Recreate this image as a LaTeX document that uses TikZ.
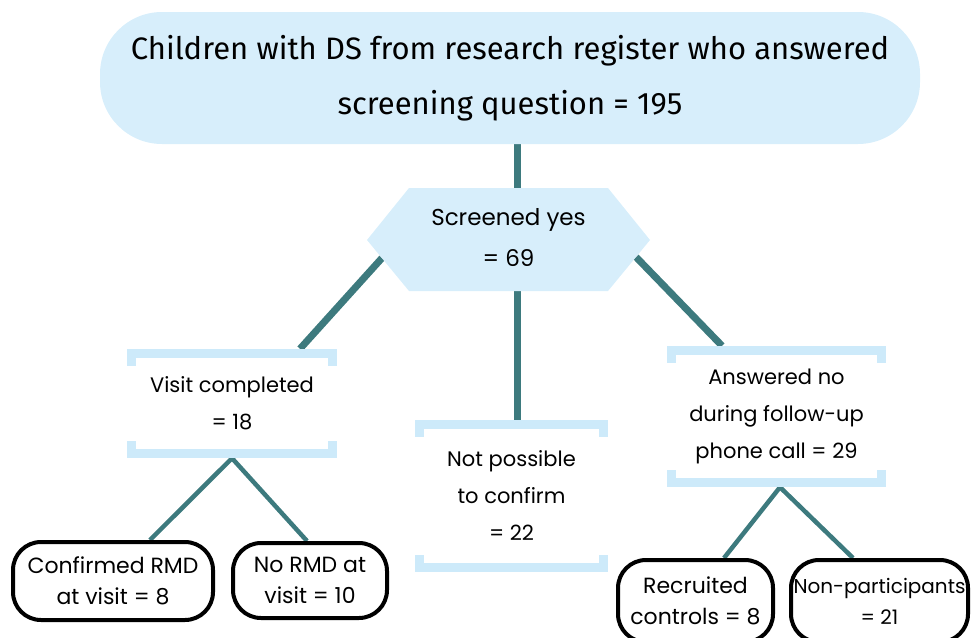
\documentclass[tikz,border=0pt]{standalone}
\usepackage{fontspec}
\setmainfont{Poppins}
\newfontfamily\topfont{Fira Sans}
\usetikzlibrary{backgrounds}
\definecolor{paleblue}{RGB}{215,238,251}
\definecolor{barblue}{RGB}{205,234,250}
\definecolor{teal}{RGB}{61,122,126}
\tikzset{
  conn/.style={draw=teal, line width=7pt},
  subconn/.style={draw=teal, line width=4.5pt},
  pill/.style={fill=paleblue, rounded corners=62pt, inner sep=0pt, align=center, font=\topfont\fontsize{31}{55}\selectfont},
  txt/.style={inner sep=0pt, align=center, font=\fontsize{21}{37}\selectfont},
  outcome/.style={draw=black, line width=4pt, rounded corners=28pt, inner sep=0pt, align=center, font=\fontsize{22}{31}\selectfont},
  bracketbox/.style={inner sep=0pt, align=center, font=\fontsize{21}{37}\selectfont,
    path picture={
      \fill[barblue] (path picture bounding box.north west) rectangle ([yshift=-9pt]path picture bounding box.north east);
      \fill[barblue] ([yshift=-9pt]path picture bounding box.north west) rectangle ([xshift=9pt,yshift=-17pt]path picture bounding box.north west);
      \fill[barblue] ([yshift=-9pt]path picture bounding box.north east) rectangle ([xshift=-9pt,yshift=-17pt]path picture bounding box.north east);
      \fill[barblue] (path picture bounding box.south west) rectangle ([yshift=9pt]path picture bounding box.south east);
      \fill[barblue] ([yshift=9pt]path picture bounding box.south west) rectangle ([xshift=9pt,yshift=17pt]path picture bounding box.south west);
      \fill[barblue] ([yshift=9pt]path picture bounding box.south east) rectangle ([xshift=-9pt,yshift=17pt]path picture bounding box.south east);
    }}
}
\begin{document}
\begin{tikzpicture}[x=1pt,y=-1pt]
\useasboundingbox (0,0) rectangle (971,637);
\clip (0,0) rectangle (971,637);
% top pill
\node[pill, minimum width=820pt, minimum height=132pt] (top) at (510,78) {Children with DS from research register who answered\\screening question = 195};
% hexagon
\fill[paleblue] (367,240) -- (409,188) -- (608,188) -- (650,240) -- (608,291) -- (409,291) -- cycle;
\node[txt, font=\fontsize{23}{41}\selectfont] (hex) at (508.5,238) {Screened yes\\= 69};
\coordinate (hexT) at (517,188);
\coordinate (hexB) at (517,291);
\coordinate (hexL) at (382,258);
\coordinate (hexR) at (636,257);
% brackets
\node[bracketbox, minimum width=210pt, minimum height=109pt] (visit) at (232,403.5) {Visit completed\\= 18};
\node[bracketbox, minimum width=193pt, minimum height=152pt] (notposs) at (511.5,496) {Not possible\\to confirm\\= 22};
\node[bracketbox, minimum width=219pt, minimum height=141pt] (answered) at (776.5,416.5) {Answered no\\during follow-up\\phone call = 29};
% outcomes
\node[outcome, minimum width=200pt, minimum height=78pt] (conf) at (113,581) {Confirmed RMD\\at visit = 8};
\node[outcome, minimum width=154pt, minimum height=75pt] (normd) at (310,580.5) {No RMD at\\visit = 10};
\node[outcome, minimum width=155pt, minimum height=82pt] (recr) at (695.5,601) {Recruited\\controls = 8};
\node[outcome, minimum width=177pt, minimum height=82pt, font=\fontsize{20}{31}\selectfont] (nonp) at (879.5,601) {Non-participants\\= 21};
% connectors
\begin{scope}[on background layer]
\draw[conn] (top.south -| hexT) -- (hexT);
\draw[conn] (hexL) -- (visit.north -| 300,0);
\draw[conn] (hexB) -- (notposs.north -| hexB);
\draw[conn] (hexR) -- (answered.north -| 722,0);
\draw[subconn] (visit.south) -- (conf.north -| 150,0);
\draw[subconn] (visit.south) -- (normd.north -| 307,0);
\draw[subconn] (answered.south -| 780,0) -- (recr.north -| 724,0);
\draw[subconn] (answered.south -| 780,0) -- (nonp.north -| 853,0);
\end{scope}
\end{tikzpicture}
\end{document}
